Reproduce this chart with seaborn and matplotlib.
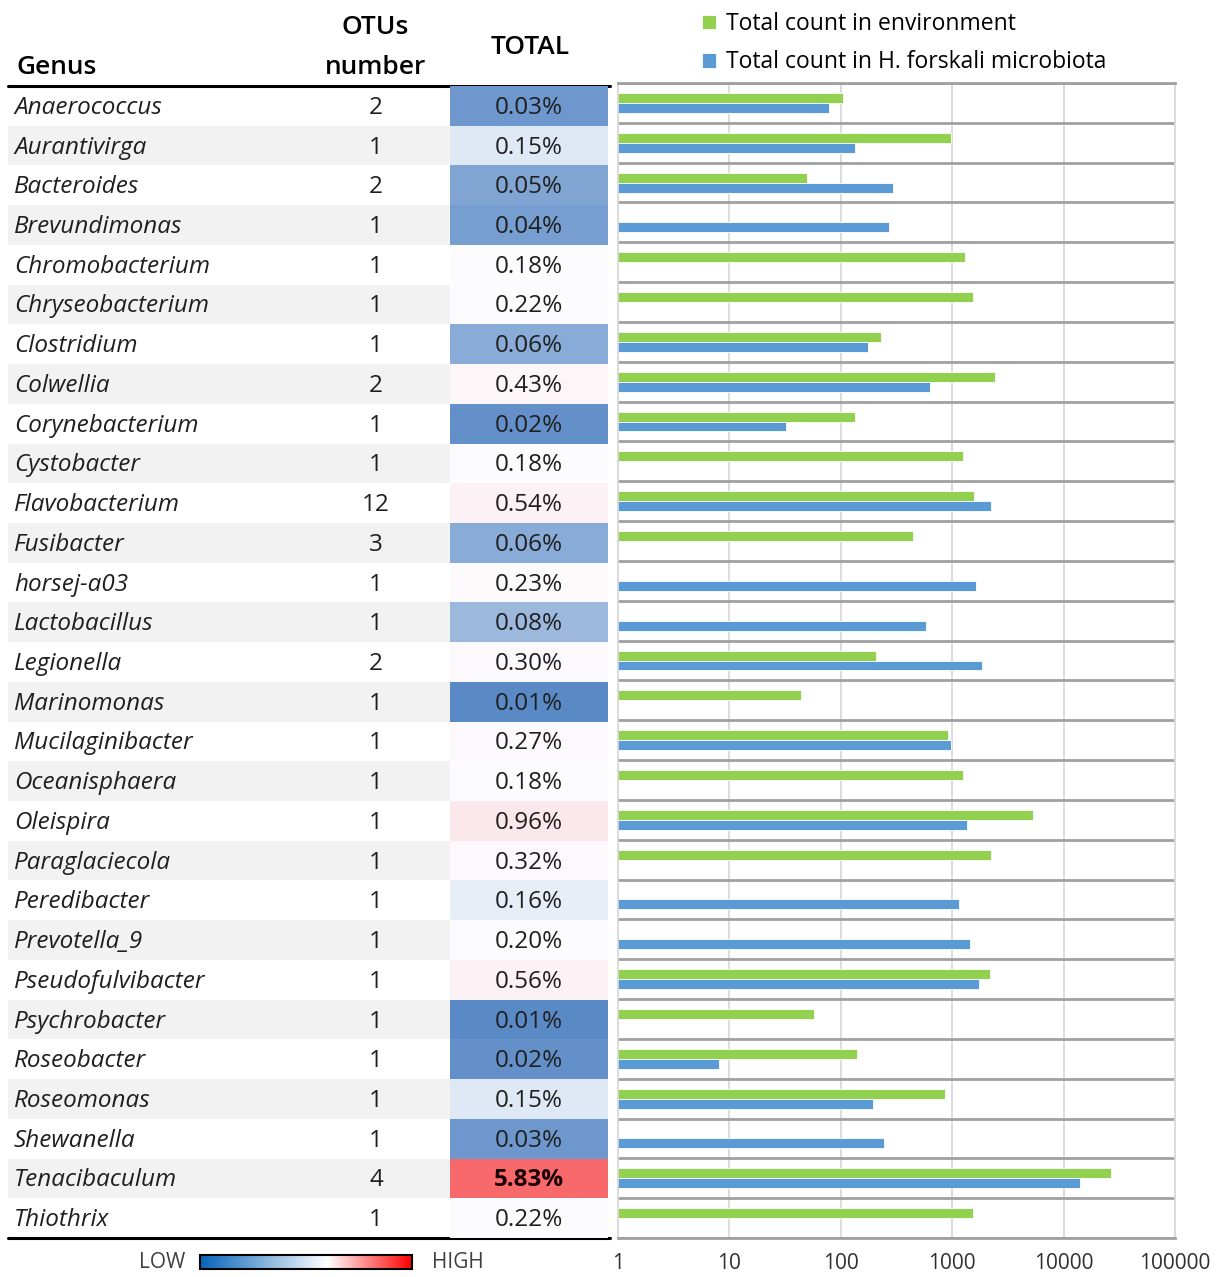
import numpy as np
import pandas as pd
import matplotlib
matplotlib.use("Agg")
import matplotlib.pyplot as plt
import seaborn as sns
from matplotlib.colors import LinearSegmentedColormap, TwoSlopeNorm, Normalize
from matplotlib.cm import ScalarMappable
import matplotlib.ticker as mticker

# ---------------- data ----------------
genus = ["Anaerococcus", "Aurantivirga", "Bacteroides", "Brevundimonas", "Chromobacterium",
         "Chryseobacterium", "Clostridium", "Colwellia", "Corynebacterium", "Cystobacter",
         "Flavobacterium", "Fusibacter", "horsej-a03", "Lactobacillus", "Legionella",
         "Marinomonas", "Mucilaginibacter", "Oceanisphaera", "Oleispira", "Paraglaciecola",
         "Peredibacter", "Prevotella_9", "Pseudofulvibacter", "Psychrobacter", "Roseobacter",
         "Roseomonas", "Shewanella", "Tenacibaculum", "Thiothrix"]
otus = [2, 1, 2, 1, 1, 1, 1, 2, 1, 1, 12, 3, 1, 1, 2, 1, 1, 1, 1, 1, 1, 1, 1, 1, 1, 1, 1, 4, 1]
total_pct = [0.03, 0.15, 0.05, 0.04, 0.18, 0.22, 0.06, 0.43, 0.02, 0.18, 0.54, 0.06, 0.23, 0.08,
             0.30, 0.01, 0.27, 0.18, 0.96, 0.32, 0.16, 0.20, 0.56, 0.01, 0.02, 0.15, 0.03, 5.83, 0.22]
nan = np.nan
env_count = [104, 966, 50, nan, 1308, 1534, 229, 2431, 133, 1263, 1575, 441, nan, nan, 205,
             44, 914, 1263, 5360, 2253, nan, nan, 2193, 57, 140, 865, nan, 26700, 1534]
hf_count = [79, 133, 292, 270, nan, nan, 175, 626, 32, nan, 2253, nan, 1619, 577, 1858,
            nan, 966, nan, 1371, nan, 1140, 1459, 1758, nan, 8.1, 194, 242, 14150, nan]
series_names = ["Total count in environment", "Total count in H. forskali microbiota"]
x_ticks = [1, 10, 100, 1000, 10000, 100000]
x_tick_labels = ["1", "10", "100", "1000", "10000", "100000"]

# ---------------- style ----------------
sns.set_style("white")
plt.rcParams["font.family"] = ["Open Sans", "DejaVu Sans"]
TXT = "#1f1f1f"
GREEN = "#92d050"
BLUE = "#5b9bd5"

W, H = 1219, 1277
fig = plt.figure(figsize=(W / 100, H / 100), dpi=100)


def px_axes(x0, y0, x1, y1):
    return fig.add_axes([x0 / W, 1 - y1 / H, (x1 - x0) / W, (y1 - y0) / H])


n = len(genus)
TOP, BOT = 86, 1238
FS = 17.5
HFS = 19

# ---------------- table ----------------
ax_t = px_axes(8, TOP, 610, BOT)
ax_t.set_xlim(8, 610)
ax_t.set_ylim(n, 0)
ax_t.axis("off")
for i in range(n):
    if i % 2 == 1:
        ax_t.axhspan(i, i + 1, xmin=0, xmax=(450 - 8) / 602, color="#f2f2f2", lw=0, zorder=0)
    ax_t.text(14, i + 0.55, genus[i], style="italic", ha="left", va="center",
              fontsize=FS, color=TXT)
    ax_t.text(376, i + 0.55, str(otus[i]), ha="center", va="center", fontsize=FS, color=TXT)
ax_t.plot([8, 610], [0, 0], color="black", lw=2.2, clip_on=False, zorder=5)
ax_t.plot([8, 610], [n, n], color="black", lw=2.2, clip_on=False, zorder=5)

# headers
hkw = dict(va="center", fontsize=HFS, color="black", fontweight="semibold")
fig.text(16 / W, 1 - 68 / H, "Genus", ha="left", **hkw)
fig.text(375 / W, 1 - 28 / H, "OTUs", ha="center", **hkw)
fig.text(375 / W, 1 - 68 / H, "number", ha="center", **hkw)
fig.text(530 / W, 1 - 47 / H, "TOTAL", ha="center", **hkw)

# ---------------- heatmap column ----------------
ax_h = px_axes(450, TOP, 608, BOT)
heat_cmap = LinearSegmentedColormap.from_list("excel3", ["#5a8ac6", "#fcfcff", "#f8696b"])
vals = np.array(total_pct).reshape(-1, 1)
labels = np.array([f"{v:.2f}%" for v in total_pct]).reshape(-1, 1)
sns.heatmap(vals, ax=ax_h, cmap=heat_cmap,
            norm=TwoSlopeNorm(vmin=min(total_pct), vcenter=float(np.median(total_pct)),
                              vmax=max(total_pct)),
            annot=labels, fmt="", cbar=False, xticklabels=False, yticklabels=False,
            linewidths=0, annot_kws={"fontsize": FS, "color": TXT})
vmax_i = int(np.argmax(total_pct))
for t in ax_h.texts:
    x, y = t.get_position()
    t.set_position((x, y + 0.05))
    if t.get_text() == labels[vmax_i, 0]:
        t.set_fontweight("bold")
        t.set_color("#1a0000")

# ---------------- bar chart ----------------
ax_b = px_axes(618, 83, 1175, BOT)
df = pd.DataFrame({
    "Genus": genus * 2,
    "Count": env_count + hf_count,
    "Series": [series_names[0]] * n + [series_names[1]] * n,
}).dropna()
sns.barplot(data=df, y="Genus", x="Count", hue="Series", order=genus,
            hue_order=series_names, palette=[GREEN, BLUE], orient="h", width=0.5,
            errorbar=None, ax=ax_b, edgecolor="white", linewidth=0.6, saturation=1)
ax_b.set_xscale("log")
ax_b.set_xlim(1, 100000)
ax_b.set_ylim(n - 0.5, -0.5)
ax_b.xaxis.set_major_locator(mticker.FixedLocator(x_ticks))
ax_b.xaxis.set_major_formatter(mticker.FixedFormatter(x_tick_labels))
ax_b.xaxis.set_minor_locator(mticker.NullLocator())
ax_b.set_yticks(np.arange(-0.5, n, 1), minor=True)
ax_b.set_yticks([])
ax_b.grid(axis="x", which="major", color="#d9d9d9", lw=1.3, zorder=0)
ax_b.grid(axis="y", which="minor", color="#a0a0a0", lw=2, zorder=0)
ax_b.set_axisbelow(True)
ax_b.tick_params(axis="x", length=0, pad=11, labelsize=15, labelcolor="#303030")
ax_b.tick_params(axis="y", which="both", length=0)
ax_b.set_xlabel("")
ax_b.set_ylabel("")
for s in ["left", "right"]:
    ax_b.spines[s].set_color("#d9d9d9")
    ax_b.spines[s].set_linewidth(1.3)
for s in ["top", "bottom"]:
    ax_b.spines[s].set_color("#a0a0a0")
    ax_b.spines[s].set_linewidth(2)

handles, labs = ax_b.get_legend_handles_labels()
if ax_b.get_legend() is not None:
    ax_b.get_legend().remove()
fig.legend(handles, labs, loc="upper left", bbox_to_anchor=(693 / W, 1 - 3 / H),
           frameon=False, fontsize=16.5, handlelength=0.6, handleheight=0.6,
           handletextpad=0.45, labelspacing=0.62, borderaxespad=0, labelcolor="black")

# ---------------- LOW / HIGH colour bar ----------------
cb_cmap = LinearSegmentedColormap.from_list(
    "lowhigh", [(0, "#0563b8"), (0.6, "#ffffff"), (1, "#ff0000")])
ax_cb = px_axes(200, 1255, 412, 1269)
cb = fig.colorbar(ScalarMappable(norm=Normalize(0, 1), cmap=cb_cmap), cax=ax_cb,
                  orientation="horizontal")
cb.set_ticks([])
cb.outline.set_edgecolor("black")
cb.outline.set_linewidth(1.5)
fig.text(162 / W, 1 - 1262 / H, "LOW", ha="center", va="center", fontsize=15, color="#404040")
fig.text(458 / W, 1 - 1262 / H, "HIGH", ha="center", va="center", fontsize=15, color="#404040")

fig.savefig("out.png", dpi=100)
